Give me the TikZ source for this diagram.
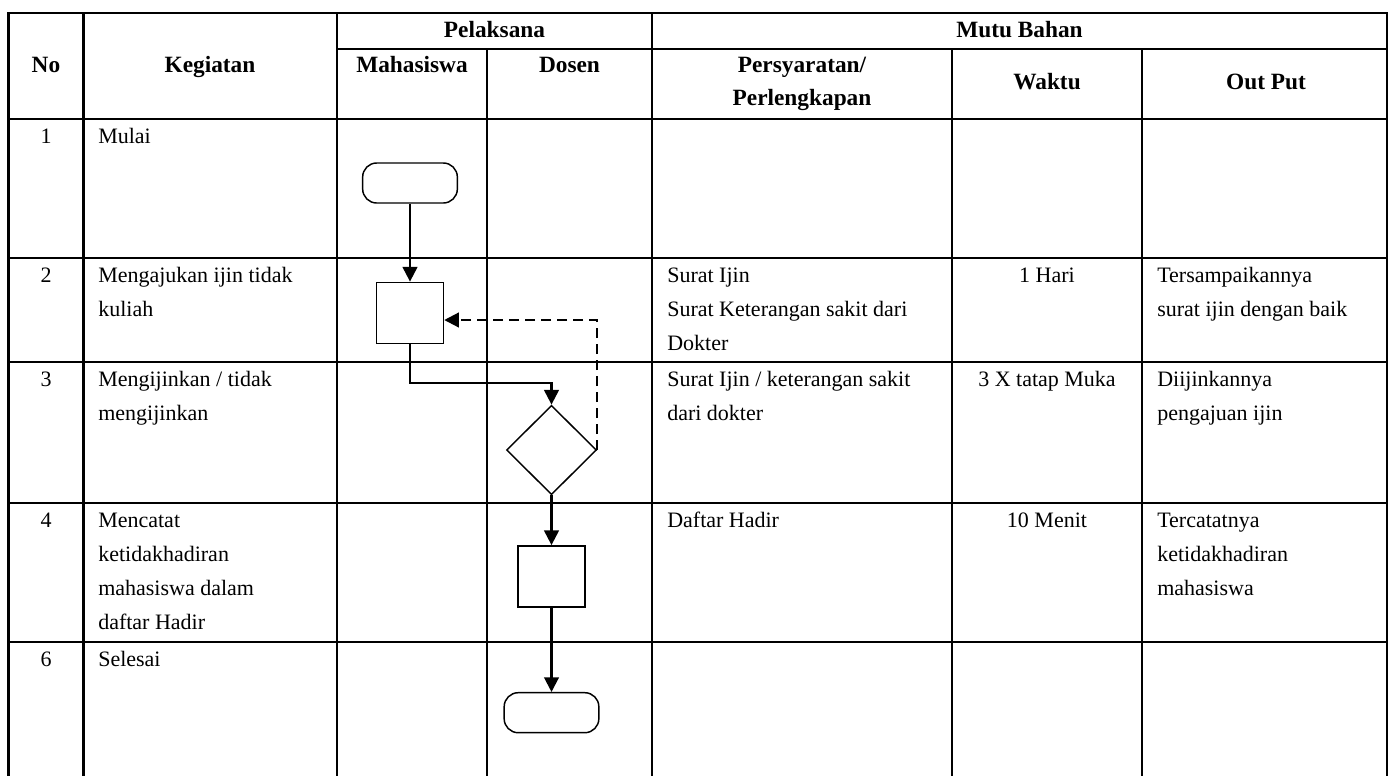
\documentclass[tikz,border=0pt]{standalone}
\usepackage{fontspec}
\setmainfont{Liberation Serif}
\usetikzlibrary{arrows.meta,shapes.geometric,calc}
\begin{document}
\begin{tikzpicture}[x=0.75pt,y=-0.75pt,
  grid/.style={line width=1.7pt, line cap=rect},
  cell/.style={anchor=north west, inner sep=0pt, align=left, font=\fontsize{16.5}{25.5}\selectfont},
  ccell/.style={anchor=north, inner sep=0pt, align=center, font=\fontsize{16.5}{25.5}\selectfont},
  head/.style={anchor=base, inner sep=0pt, font=\fontsize{17.5}{24.75}\selectfont\bfseries},
  actbox/.style={draw, line width=1.1pt, minimum width=50.25pt, minimum height=46pt, inner sep=0pt},
  term/.style={draw, line width=1.1pt, rounded corners=10.5pt, minimum width=71pt, minimum height=30pt, inner sep=0pt},
  dec/.style={draw, line width=1.1pt, diamond, aspect=1, minimum width=67.5pt, minimum height=67pt, inner sep=0pt},
  flow/.style={line width=1.6pt, -{Triangle[length=11pt,width=11pt]}},
  back/.style={flow, dash pattern=on 7.5pt off 4.5pt},
]
\fill[white] (0,0) rectangle (1391,775);
\useasboundingbox (0,0) rectangle (1391,775);

% table grid
\draw[grid] (8.5,13) -- (1387,13);
\draw[grid] (337,49) -- (1387,49);
\foreach \yy in {119,258,362,503,642} {\draw[grid] (8.5,\yy) -- (1387,\yy);}
\foreach \xx in {8.5,83.5,337,652,1387} {\draw[grid] (\xx,13) -- (\xx,775);}
\foreach \xx in {487,952,1142} {\draw[grid] (\xx,49) -- (\xx,775);}

% header
\node[head] (hPel) at (494.5,37) {Pelaksana};
\node[head] (hMutu) at (1019.5,37) {Mutu Bahan};
\node[head] (hNo) at (46,72) {No};
\node[head] (hKeg) at (210,72) {Kegiatan};
\node[head] (hMhs) at (412,72) {Mahasiswa};
\node[head] (hDos) at (569.5,72) {Dosen};
\node[head] (hPers1) at (802,72) {Persyaratan/};
\node[head] (hPers2) at (802,105) {Perlengkapan};
\node[head] (hWak) at (1047,89) {Waktu};
\node[head] (hOut) at (1266,89) {Out Put};

% No column
\node[ccell] (n1) at (46,119) {\strut 1};
\node[ccell] (n2) at (46,258) {\strut 2};
\node[ccell] (n3) at (46,362) {\strut 3};
\node[ccell] (n4) at (46,503) {\strut 4};
\node[ccell] (n6) at (46,642) {\strut 6};

% Kegiatan
\node[cell] (k1) at (98,119) {\strut Mulai};
\node[cell] (k2) at (98,258) {\strut Mengajukan ijin tidak\\kuliah};
\node[cell] (k3) at (98,362) {\strut Mengijinkan / tidak\\mengijinkan};
\node[cell] (k4) at (98,503) {\strut Mencatat\\ketidakhadiran\\mahasiswa dalam\\daftar Hadir};
\node[cell] (k6) at (98,642) {\strut Selesai};

% Persyaratan
\node[cell] (p2) at (667,258) {\strut Surat Ijin\\Surat Keterangan sakit dari\\Dokter};
\node[cell] (p3) at (667,362) {\strut Surat Ijin / keterangan sakit\\dari dokter};
\node[cell] (p4) at (667,503) {\strut Daftar Hadir};

% Waktu
\node[ccell] (w2) at (1047,258) {\strut 1 Hari};
\node[ccell] (w3) at (1047,362) {\strut 3 X tatap Muka};
\node[ccell] (w4) at (1047,503) {\strut 10 Menit};

% Out Put
\node[cell] (o2) at (1157,258) {\strut Tersampaikannya\\surat ijin dengan baik};
\node[cell] (o3) at (1157,362) {\strut Diijinkannya\\pengajuan ijin};
\node[cell] (o4) at (1157,503) {\strut Tercatatnya\\ketidakhadiran\\mahasiswa};

% flowchart
\node[term] (start) at (410,183) {};
\node[actbox] (act2) at (410,313) {};
\node[dec] (dec3) at (551.5,450) {};
\node[actbox] (act4) at (551.5,576.5) {};
\node[term] (stop) at (551.5,712.7) {};
\coordinate (elbow) at (551.5,383);
\coordinate (backc) at (597,320);

\draw[flow] (start) -- (act2);
\draw[flow] (act2.south) |- (elbow) -- (dec3.north);
\draw[back] (dec3.east) |- (act2.east |- backc);
\draw[flow] (dec3) -- (act4);
\draw[flow] (act4) -- (stop);
\end{tikzpicture}
\end{document}
